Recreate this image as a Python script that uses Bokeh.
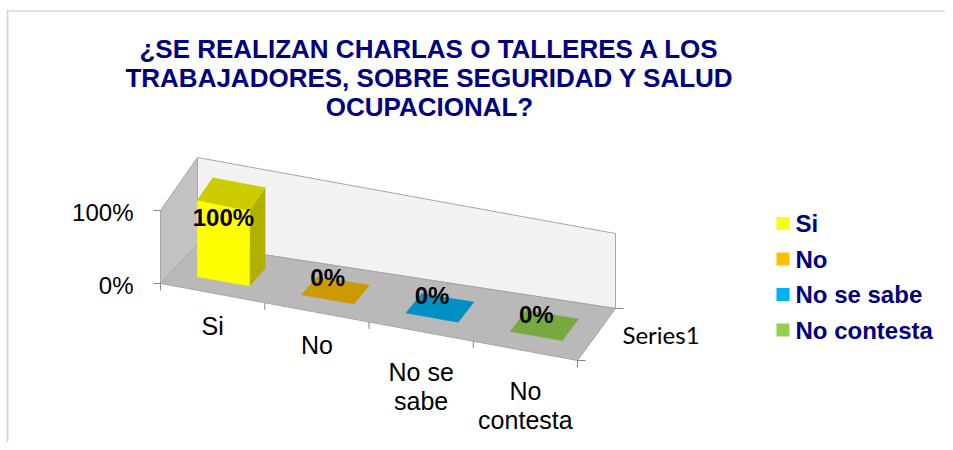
import numpy as np
from bokeh.plotting import figure
from bokeh.models import Range1d
from bokeh.core.properties import value
from bokeh.embed import file_html
from bokeh.resources import INLINE

# ---------------- data ----------------
categories = ["Si", "No", "No se sabe", "No contesta"]
category_labels = ["Si", "No", "No se\nsabe", "No\ncontesta"]
values = [1.00, 0.00, 0.00, 0.00]
data_labels = ["100%", "0%", "0%", "0%"]
front_colors = ["#FFFF00", "#FFC000", "#00B0F0", "#92D050"]
top_colors = ["#CCCC00", "#CC9A00", "#0090C4", "#76A93F"]
side_colors = ["#B0B000", "#A67C00", "#007AA6", "#628E34"]
y_ticks = [0.0, 1.0]
y_tick_labels = ["0%", "100%"]
series_name = "Series1"
title_lines = ["¿SE REALIZAN CHARLAS O TALLERES A LOS",
               "TRABAJADORES, SOBRE SEGURIDAD Y SALUD",
               "OCUPACIONAL?"]

# ---------------- 3-D box projection (layout) ----------------
# corners of the plot box in pixels: key = (category 0/1, value 0/1, depth 0/1)
FL0, FR0 = (160.0, 283.0), (577.0, 360.0)
BL0, BR0 = (197.0, 244.0), (615.0, 308.0)
FL1, BL1, BR1 = (160.0, 210.0), (197.0, 157.0), (615.0, 233.0)
FR1 = (FR0[0], FR0[1] + (BR1[1] - BR0[1]) * (FL1[1] - FL0[1]) / (BL1[1] - BL0[1]))
CORNERS = {(0, 0, 0): FL0, (1, 0, 0): FR0, (0, 0, 1): BL0, (1, 0, 1): BR0,
           (0, 1, 0): FL1, (1, 1, 0): FR1, (0, 1, 1): BL1, (1, 1, 1): BR1}
V_MAX = max(y_ticks)


def P(c, v, d):
    v = v / V_MAX
    x = y = 0.0
    for (ci, vi, di), (px, py) in CORNERS.items():
        w = (c if ci else 1 - c) * (v if vi else 1 - v) * (d if di else 1 - d)
        x += w * px
        y += w * py
    return x, y


def poly(pts):
    return [p[0] for p in pts], [p[1] for p in pts]


n = len(categories)
GAP = 1.0          # gap width relative to bar width
D0, D1 = 0.29, 0.71  # depth span of the series

p = figure(width=945, height=442, x_range=Range1d(0, 945), y_range=Range1d(442, 0),
           output_backend="svg", toolbar_location=None, x_axis_type=None, y_axis_type=None,
           min_border=0, outline_line_color=None, background_fill_color="white")
p.grid.visible = False

# chart border
p.line([7, 7], [10, 442], line_color="#D9D9D9", line_width=2)
p.line([6, 945], [10.5, 10.5], line_color="#D9D9D9", line_width=1.5)

# walls & floor
bw = poly([P(0, 0, 1), P(1, 0, 1), P(1, V_MAX, 1), P(0, V_MAX, 1)])
p.patch(bw[0], bw[1], fill_color="#F2F2F2", line_color="#A6A6A6", line_width=1)
lw = poly([P(0, 0, 0), P(0, 0, 1), P(0, V_MAX, 1), P(0, V_MAX, 0)])
p.patch(lw[0], lw[1], fill_color="#C2C2C2", line_color="#A6A6A6", line_width=1)
fl = poly([P(0, 0, 0), P(1, 0, 0), P(1, 0, 1), P(0, 0, 1)])
p.patch(fl[0], fl[1], fill_color="#B9B9B9", line_color="#A6A6A6", line_width=1)

# bars
half = 0.5 / n / (1 + GAP)
for i, v in enumerate(values):
    cc = (i + 0.5) / n
    c0, c1 = cc - half, cc + half
    vt = max(v, 0.004)
    front = poly([P(c0, 0, D0), P(c1, 0, D0), P(c1, vt, D0), P(c0, vt, D0)])
    side = poly([P(c1, 0, D0), P(c1, 0, D1), P(c1, vt, D1), P(c1, vt, D0)])
    top = poly([P(c0, vt, D0), P(c1, vt, D0), P(c1, vt, D1), P(c0, vt, D1)])
    if v > 0:
        p.patch(side[0], side[1], fill_color=side_colors[i], line_color=side_colors[i], line_width=0.5)
        p.patch(front[0], front[1], fill_color=front_colors[i], line_color=front_colors[i], line_width=0.5)
    p.patch(top[0], top[1], fill_color=top_colors[i], line_color=top_colors[i], line_width=0.5)

# data labels
lx, ly = [], []
for i, v in enumerate(values):
    x, y = P((i + 0.5) / n, 0.55 * v, D0)
    lx.append(x)
    ly.append(y - 22)
p.text(lx, ly, text=data_labels, text_font=value("Liberation Sans"), text_font_size="24px",
       text_font_style="bold", text_color="black", text_align="center", text_baseline="middle")

# value axis ticks & labels
for t in y_ticks:
    x, y = P(0, t, 0)
    p.line([x - 7, x], [y, y], line_color="#868686", line_width=1)
tx = [P(0, t, 0)[0] - 27 for t in y_ticks]
ty = [P(0, t, 0)[1] + 2 for t in y_ticks]
p.text(tx, ty, text=y_tick_labels, text_font=value("Liberation Sans"), text_font_size="24px",
       text_color="black", text_align="right", text_baseline="middle")

# category axis ticks & labels
for k in range(n + 1):
    x, y = P(k / n, 0, 0)
    p.line([x, x], [y, y + 7], line_color="#868686", line_width=1)
cx, cy = [], []
for i, lab in enumerate(category_labels):
    x, y = P((i + 0.5) / n, 0, 0)
    cx.append(x)
    cy.append(y + 19 + 7 * lab.count("\n"))
p.text(cx, cy, text=category_labels, text_font=value("Liberation Sans"), text_font_size="25px",
       text_color="black", text_align="center", text_baseline="top", text_line_height=1.05)

# depth (series) axis
for d in (0, 1):
    x, y = P(1, 0, d)
    p.line([x, x + 8], [y, y], line_color="#868686", line_width=1)
sx, sy = P(1, 0, 0.5)
p.text([sx + 26], [sy], text=[series_name], text_font=value("Lato"), text_font_size="24px",
       text_color="black", text_align="left", text_baseline="middle")

# legend
leg_y = [223 + 35.5 * i for i in range(n)]
p.scatter([782.5] * n, leg_y, marker="square", size=13, fill_color=front_colors, line_color=None)
p.text([795] * n, leg_y, text=categories, text_font=value("Liberation Sans"), text_font_size="24px",
       text_font_style="bold", text_color="#000080", text_align="left", text_baseline="middle")

# title
p.text([429] * 3, [48 + 29 * i for i in range(3)], text=title_lines, text_font=value("Liberation Sans"),
       text_font_size="26px", text_font_style="bold", text_color="#000080", text_align="center",
       text_baseline="middle")

open("out.html", "w").write(file_html(p, INLINE))
